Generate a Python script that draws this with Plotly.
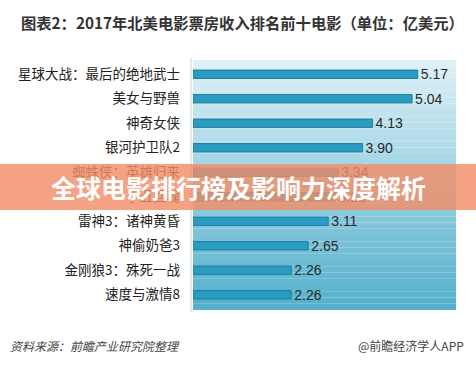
import plotly.graph_objects as go

movies = ["星球大战：最后的绝地武士", "美女与野兽", "神奇女侠", "银河护卫队2", "蜘蛛侠：英雄归来",
          "小丑回魂", "雷神3：诸神黄昏", "神偷奶爸3", "金刚狼3：殊死一战", "速度与激情8"]
revenue = [5.17, 5.04, 4.13, 3.90, 3.34, 3.28, 3.11, 2.65, 2.26, 2.26]

title_text = "图表2：2017年北美电影票房收入排名前十电影（单位：亿美元）"
banner_text = "全球电影排行榜及影响力深度解析"
source_text = "资料来源：前瞻产业研究院整理"
brand_text = "@前瞻经济学人APP"

W, H = 476, 365
CJK = "Noto Sans CJK SC, Noto Sans, sans-serif"

fig = go.Figure(go.Bar(
    x=revenue, y=movies, orientation="h",
    width=0.34,
    marker=dict(color="#2a9cc0", line=dict(color="#1d7f9e", width=1)),
    text=[f"{v:.2f}" for v in revenue], textposition="outside",
    constraintext="none",
    textfont=dict(family="Liberation Sans, Arial, sans-serif", size=14, color="#2a2a2a"),
    cliponaxis=False,
))

# gradient background panel (style only)
x0, x1 = 193 / W, 456 / W
ytop, ybot = 1 - 60 / H, 1 - 310 / H
n = 40
c_top = (222, 241, 247)
c_bot = (84, 176, 204)
shapes = []
for i in range(n):
    t = i / (n - 1)
    c = tuple(int(c_top[k] + (c_bot[k] - c_top[k]) * t) for k in range(3))
    ya = ytop - (ytop - ybot) * i / n
    yb = ytop - (ytop - ybot) * (i + 1) / n
    shapes.append(dict(type="rect", xref="paper", yref="paper", x0=x0, x1=x1, y0=yb, y1=ya,
                       line=dict(width=0), fillcolor=f"rgb{c}", layer="below"))
# axis line
shapes.append(dict(type="line", xref="paper", yref="paper", x0=191 / W, x1=191 / W,
                   y0=1 - 312 / H, y1=1 - 58 / H, line=dict(color="#c8d4da", width=1), layer="below"))
# orange banner
shapes.append(dict(type="rect", xref="paper", yref="paper", x0=0, x1=1,
                   y0=1 - 210 / H, y1=1 - 164 / H, line=dict(width=0),
                   fillcolor="rgba(242,142,104,0.82)", layer="above"))

annotations = [
    dict(text=title_text, x=19 / W, y=1 - 22 / H, xref="paper", yref="paper", xanchor="left",
         yanchor="middle", showarrow=False, font=dict(family=CJK, size=15.3, color="#333333", weight="bold")),
    dict(text=banner_text, x=0.5, y=1 - 187 / H, xref="paper", yref="paper", xanchor="center",
         yanchor="middle", showarrow=False, font=dict(family=CJK, size=25, color="#ffffff", weight="bold")),
    dict(text=f"<i>{source_text}</i>", x=8 / W, y=1 - 345 / H, xref="paper", yref="paper", xanchor="left",
         yanchor="middle", showarrow=False, font=dict(family=CJK, size=12, color="#444444")),
    dict(text=brand_text, x=466 / W, y=1 - 345 / H, xref="paper", yref="paper", xanchor="right",
         yanchor="middle", showarrow=False, font=dict(family=CJK, size=12, color="#444444")),
]

fig.update_layout(
    width=W, height=H,
    margin=dict(l=0, r=0, t=0, b=0),
    paper_bgcolor="white", plot_bgcolor="rgba(0,0,0,0)",
    showlegend=False,
    shapes=shapes, annotations=annotations,
    xaxis=dict(domain=[193 / W, 456 / W], range=[0, 6.05], visible=False, fixedrange=True),
    yaxis=dict(domain=[1 - 307 / H, 1 - 62 / H], autorange="reversed", showgrid=False,
               showline=False, ticks="", ticklabelstandoff=12,
               tickfont=dict(family=CJK, size=13.5, color="#222222")),
)

fig.write_html("out.html")
